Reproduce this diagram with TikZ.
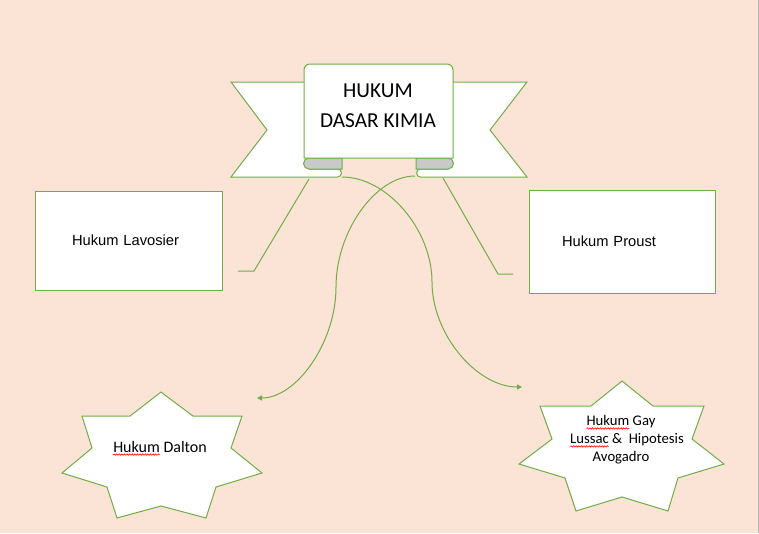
\documentclass[tikz,border=0pt]{standalone}
\usepackage{fontspec}
\setmainfont{Carlito}
\newfontfamily\arialfont{Liberation Sans}
\usepackage{tikz}
\usetikzlibrary{arrows.meta,positioning,decorations.pathmorphing}
\definecolor{peach}{HTML}{FBE4D5}
\definecolor{leaf}{HTML}{70AD47}
\definecolor{curl}{HTML}{C9C9C9}
\newlength{\wavelen}
\newcommand{\spellwave}[1]{\settowidth{\wavelen}{#1}\rlap{\tikz[overlay,baseline=0pt]
  \draw[red,line width=0.6pt,decorate,decoration={snake,amplitude=0.7pt,segment length=2.6pt}]
  (0pt,-2.6pt) -- (\wavelen,-2.6pt);}#1}

\begin{document}
\begin{tikzpicture}[x=1pt,y=-1pt,line width=1pt,>={Triangle[length=5pt,width=5pt]},
  banner/.style={draw=leaf,fill=white,line join=miter},
  curlback/.style={draw=leaf,fill=curl},
  lawbox/.style={draw=leaf,fill=white,rectangle,align=left,
    font={\arialfont\fontsize{14.7pt}{17pt}\selectfont}},
  starline/.style={draw=leaf,fill=white,line join=miter},
  link/.style={draw=leaf,line width=1pt}]
  \useasboundingbox (0,0) rectangle (759,533);
  \fill[peach] (0,0) rectangle (759,533);
  \draw[gray!55,line width=0.8pt] (758.5,0) -- (758.5,533);
  % banner
  \draw[banner] (231,82) -- (267,130) -- (231,177) -- (337.5,177)
    arc[start angle=90,end angle=-90,radius=4] -- (309,169) -- (309,82) -- cycle;
  \draw[banner] (527,82) -- (490,130) -- (527,177) -- (420.5,177)
    arc[start angle=90,end angle=270,radius=4] -- (448,169) -- (448,82) -- cycle;
  \draw[curlback] (342,158) -- (309,158) arc[start angle=270,end angle=90,radius=5.5] -- (342,169) -- cycle;
  \draw[curlback] (416,158) -- (448,158) arc[start angle=270,end angle=450,radius=5.5] -- (416,169) -- cycle;
  \draw[banner] (304,158) -- (304,70) arc[start angle=180,end angle=270,radius=6]
    -- (447,64) arc[start angle=270,end angle=360,radius=6] -- (453,158) -- cycle;
  \node[font=\fontsize{21.3pt}{30pt}\selectfont,align=center] (title) at (378,106) {HUKUM\\DASAR KIMIA};
  % law boxes
  \node[lawbox,minimum width=187pt,minimum height=99pt,inner xsep=37pt,text width=113pt]
    (lavosier) at (128.5,240.5) {Hukum Lavosier};
  \node[lawbox,minimum width=186pt,minimum height=103pt,inner xsep=33pt,text width=120pt]
    (proust) at (622,241.5) {Hukum Proust};
  % stars
  \draw[starline] (161,392) -- (193,416) -- (242,416) -- (231,448) -- (262,473) -- (216,487) -- (206,518)
    -- (161,506) -- (117,518) -- (107,487) -- (62,473) -- (92,448) -- (82,416) -- (130,416) -- cycle;
  \draw[starline] (622,381) -- (653,406) -- (704,406) -- (692,439) -- (724,464) -- (678,478) -- (668,511)
    -- (622,497) -- (576,511) -- (565,478) -- (519,464) -- (552,439) -- (540,406) -- (591,406) -- cycle;
  \node[font=\fontsize{16pt}{19pt}\selectfont] (dalton) at (160,446.5) {\spellwave{Hukum} Dalton};
  \node[font=\fontsize{14.7pt}{18pt}\selectfont,align=center] (gaylussac) at (621,440)
    {\spellwave{Hukum} Gay\\\hspace{12pt}\spellwave{Lussac} \&\ \ Hipotesis\\Avogadro};
  % connectors
  \coordinate (tailL) at (309,179);
  \coordinate (tailR) at (443,178);
  \coordinate (lavStub) at (238,271);
  \coordinate (prouStub) at (513,274);
  \coordinate (rollL) at (342,177);
  \coordinate (rollR) at (415,176);
  \coordinate (daltonTip) at (257,398);
  \coordinate (gayTip) at (522,387);
  \draw[link] (tailL) -- (254,271) -- (lavStub);
  \draw[link] (tailR) -- (498,274) -- (prouStub);
  \draw[link,->] (rollL) .. controls (387,177) and (432,229.5) .. (432,282)
    .. controls (432,334.5) and (477,387) .. (gayTip);
  \draw[link,->] (rollR) .. controls (375.5,176) and (336,231.5) .. (336,287)
    .. controls (336,342.5) and (296.5,398) .. (daltonTip);
\end{tikzpicture}
\end{document}
